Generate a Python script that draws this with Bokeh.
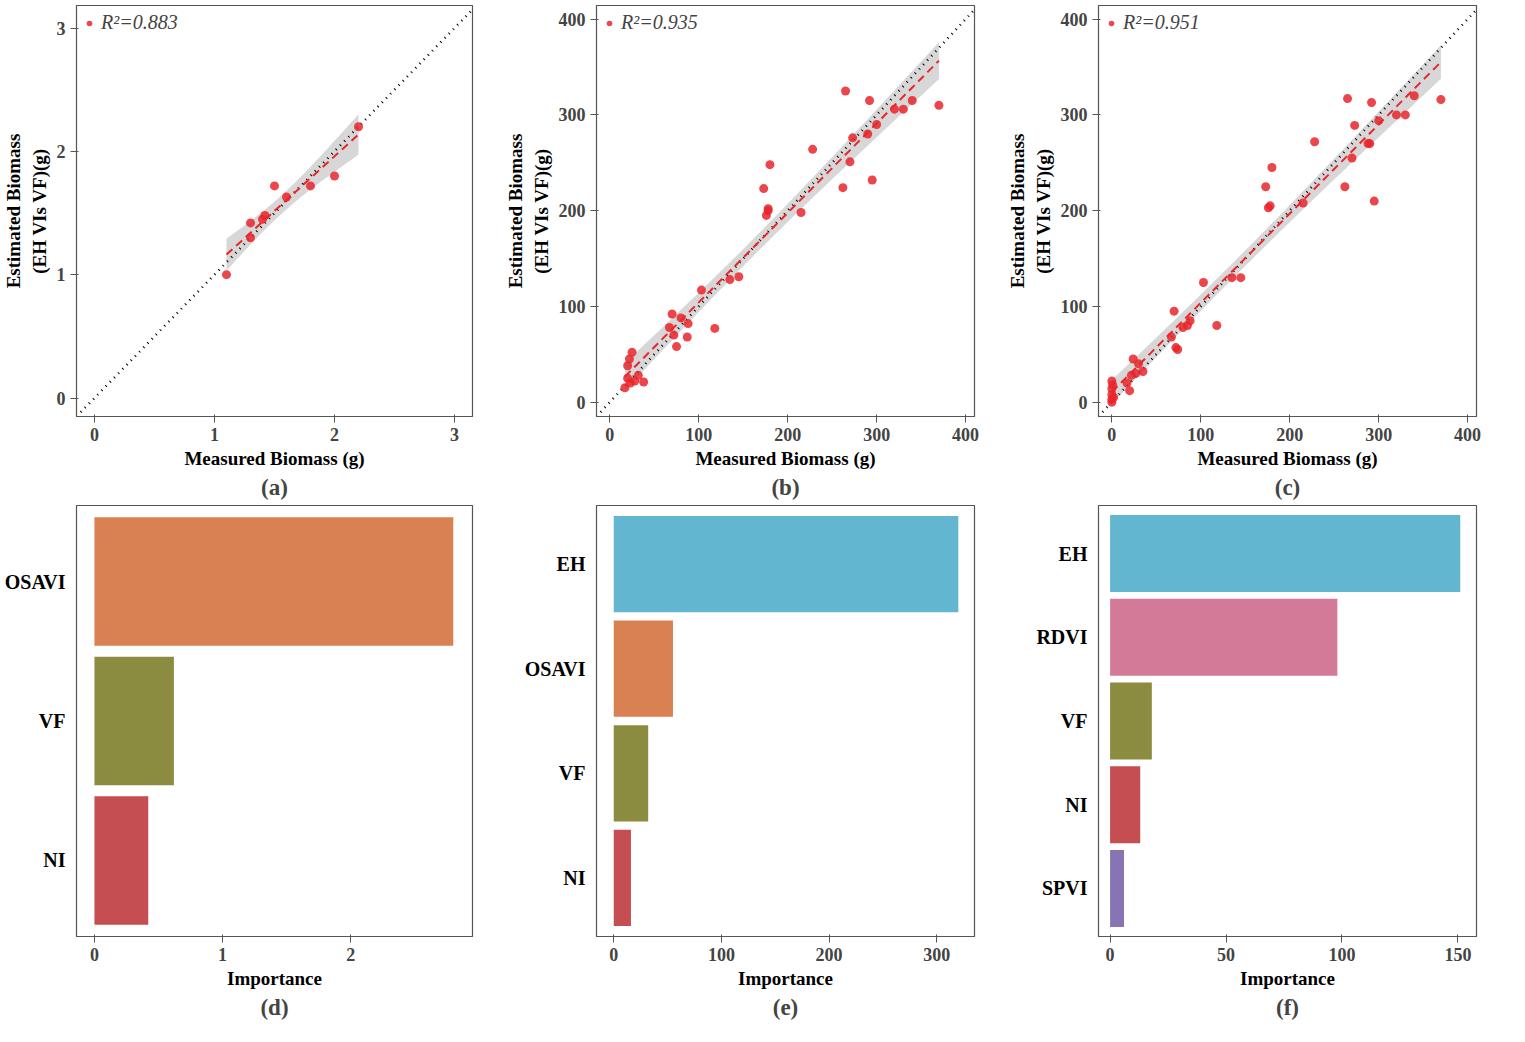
import numpy as np
from bokeh.plotting import figure
from bokeh.layouts import gridplot
from bokeh.models import Title, Legend, LegendItem, FixedTicker, ColumnDataSource
from bokeh.embed import file_html
from bokeh.resources import INLINE

a_x = [1.1, 1.3, 1.3, 1.4, 1.42, 1.5, 1.6, 1.8, 2.0, 2.2]
a_y = [1.0, 1.3, 1.42, 1.45, 1.48, 1.72, 1.63, 1.72, 1.8, 2.2]
b_x = [17,20,22,25,28,32,38,20,23,67,70,72,75,80,88,87,103,118,135,145,173,176,178,178,180,215,228,262,265,270,273,290,292,295,300,320,330,340,370]
b_y = [15,38,45,52,22,28,21,25,20,78,92,70,58,88,82,68,117,77,128,131,223,195,200,202,248,198,264,224,325,251,276,280,315,232,290,306,306,315,310]
c_x = [0,0,0,0,0,1,2,17,20,22,24,27,30,35,67,70,72,74,80,85,88,103,118,135,145,173,176,178,180,215,228,262,265,270,273,288,290,292,295,300,320,330,340,370]
c_y = [0,3,8,14,22,18,5,20,12,28,45,30,40,32,68,95,57,55,78,80,85,125,80,130,130,225,203,205,245,208,272,225,317,255,289,270,270,313,210,294,300,300,320,316]
r2 = ["0.883", "0.935", "0.951"]

d_vars = ["OSAVI", "VF", "NI"]; d_imp = [2.8, 0.62, 0.42]
e_vars = ["EH", "OSAVI", "VF", "NI"]; e_imp = [320, 55, 32, 16]
f_vars = ["EH", "RDVI", "VF", "NI", "SPVI"]; f_imp = [151, 98, 18, 13, 6]
colors = {"EH": "#63b6cf", "OSAVI": "#d98152", "VF": "#8b8c3f", "NI": "#c54e52",
          "RDVI": "#d47a99", "SPVI": "#8674b4"}

FONT = "Liberation Serif"

def style(p):
    p.grid.visible = False
    p.outline_line_color = "#555555"
    p.outline_line_width = 1.2
    for ax in (p.xaxis, p.yaxis):
        ax.axis_line_color = "#555555"
        ax.major_tick_line_color = "#555555"
        ax.minor_tick_line_color = None
        ax.major_label_text_font = FONT
        ax.major_label_text_font_size = "18px"
        ax.major_label_text_font_style = "bold"
        ax.major_label_text_color = "#444444"
        ax.axis_label_text_font = FONT
        ax.axis_label_text_font_size = "19px"
        ax.axis_label_text_font_style = "bold"
        ax.axis_label_text_color = "black"
        ax.axis_label_standoff = 4

def add_tag(p, tag):
    p.add_layout(Title(text=tag, align="center", text_font=FONT, text_font_size="23px",
                       text_font_style="bold", standoff=2), "below")

def scatter_plot(x, y, rng, ticks, r, tag, w, h):
    p = figure(width=w, height=h, x_range=rng, y_range=(rng[0], rng[1] + (rng[1]-rng[0])*0.01),
               output_backend="svg", toolbar_location=None, min_border_right=30)
    style(p)
    x = np.array(x, float); y = np.array(y, float)
    n = len(x)
    slope, icpt = np.polyfit(x, y, 1)
    xs = np.linspace(x.min(), x.max(), 60)
    yf = icpt + slope * xs
    res = y - (icpt + slope * x)
    s = np.sqrt(np.sum(res**2) / (n - 2))
    se = s * np.sqrt(1/n + (xs - x.mean())**2 / np.sum((x - x.mean())**2))
    p.varea(x=xs, y1=yf - 2.0*se, y2=yf + 2.0*se, fill_color="#bdbdbd", fill_alpha=0.6)
    p.line([rng[0], rng[1]], [rng[0], rng[1]], line_color="black", line_dash="1 5", line_width=2.5)
    pts = p.scatter(x, y, size=9, fill_color="#e8262b", line_color=None, fill_alpha=0.85)
    p.line(xs, yf, line_color="#e8262b", line_dash="8 5", line_width=2)
    leg = Legend(items=[LegendItem(label="R²=" + r, renderers=[pts])], location="top_left",
                 border_line_color=None, background_fill_alpha=0, label_text_font=FONT,
                 label_text_font_style="italic", label_text_font_size="20px",
                 glyph_width=14, padding=2, margin=6)
    p.add_layout(leg)
    p.xaxis.ticker = FixedTicker(ticks=ticks)
    p.yaxis.ticker = FixedTicker(ticks=ticks)
    p.xaxis.axis_label = "Measured Biomass (g)"
    p.yaxis.axis_label = "Estimated Biomass\n(EH VIs VF)(g)"
    add_tag(p, tag)
    return p

def bar_plot(vars_, imp, rng, ticks, tag, w, h):
    p = figure(width=w, height=h, x_range=rng, y_range=list(reversed(vars_)),
               output_backend="svg", toolbar_location=None, min_border_right=30, min_border_left=40)
    style(p)
    src = ColumnDataSource(dict(v=vars_, imp=imp, c=[colors[v] for v in vars_]))
    p.hbar(y="v", left=0, right="imp", height=0.92, fill_color="c", line_color=None, source=src)
    p.y_range.range_padding = 0.03
    p.xaxis.ticker = FixedTicker(ticks=ticks)
    p.yaxis.major_tick_line_color = None
    p.yaxis.axis_line_color = None
    p.yaxis.major_label_text_color = "black"
    p.yaxis.major_label_text_font_size = "20px"
    p.xaxis.axis_label = "Importance"
    add_tag(p, tag)
    return p

W, H1, H2 = 502, 500, 520
pa = scatter_plot(a_x, a_y, (-0.15, 3.15), [0, 1, 2, 3], r2[0], "(a)", W, H1)
pb = scatter_plot(b_x, b_y, (-15, 410), [0, 100, 200, 300, 400], r2[1], "(b)", W, H1)
pc = scatter_plot(c_x, c_y, (-15, 410), [0, 100, 200, 300, 400], r2[2], "(c)", W, H1)
pd = bar_plot(d_vars, d_imp, (-0.14, 2.95), [0, 1, 2], "(d)", W, H2)
pe = bar_plot(e_vars, e_imp, (-16, 335), [0, 100, 200, 300], "(e)", W, H2)
pf = bar_plot(f_vars, f_imp, (-5, 158), [0, 50, 100, 150], "(f)", W, H2)

g = gridplot([[pa, pb, pc], [pd, pe, pf]], toolbar_location=None)
open("out.html", "w").write(file_html(g, INLINE))
